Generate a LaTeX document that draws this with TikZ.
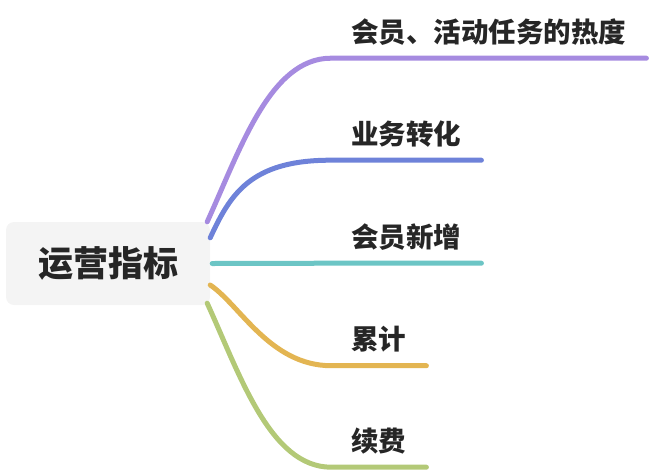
\documentclass[tikz,border=0pt]{standalone}
\usepackage{fontspec}
\setmainfont{Noto Sans CJK SC}
\usetikzlibrary{positioning}

\definecolor{rootfill}{HTML}{F4F4F4}
\definecolor{inkgray}{HTML}{262626}
\definecolor{lnpurple}{HTML}{A68BE0}
\definecolor{lnblue}{HTML}{6E82D9}
\definecolor{lnteal}{HTML}{6CC5C5}
\definecolor{lnyellow}{HTML}{E3B552}
\definecolor{lngreen}{HTML}{B3C977}

\begin{document}
\begin{tikzpicture}[
    x=1pt, y=-1pt,
    rootbox/.style={draw=none, fill=rootfill, rounded corners=8pt, minimum width=204pt,
        minimum height=83pt, text=inkgray, font=\fontsize{35}{40}\selectfont\bfseries},
    leaf/.style={anchor=west, inner xsep=20pt, inner ysep=0pt, minimum height=52pt,
        text=inkgray, font=\fontsize{27.5}{31}\selectfont\bfseries},
    branch/.style={line width=5pt, line cap=round}
]
\useasboundingbox (0,0) rectangle (650,472);

% Root
\node[rootbox] (root) at (108,263.5) {运营指标};

% Leaves
\node[leaf] (heat) at (331,32) {会员、活动任务的热度};
\node[leaf] (convert) at (331,134) {业务转化};
\node[leaf] (newmem) at (331,237) {会员新增};
\node[leaf] (total) at (331,339.5) {累计};
\node[leaf] (renew) at (331,441) {续费};

% Branches
\draw[branch, lnpurple] ([xshift=-3pt]root.north east)
    .. controls (240,150) and (270,58) .. (heat.south west) -- (heat.south east);
\draw[branch, lnblue] ([yshift=-16pt]root.north east)
    .. controls (230,195) and (250,160) .. (convert.south west) -- (convert.south east);
\draw[branch, lnteal] ([xshift=2pt]root.east) -- (newmem.south west) -- (newmem.south east);
\draw[branch, lnyellow] ([yshift=-21.5pt]root.east)
    .. controls (240,305) and (270,365.5) .. (total.south west) -- (total.south east);
\draw[branch, lngreen] ([xshift=-3pt,yshift=2pt]root.south east)
    .. controls (240,375) and (270,467) .. (renew.south west) -- (renew.south east);

\end{tikzpicture}
\end{document}
